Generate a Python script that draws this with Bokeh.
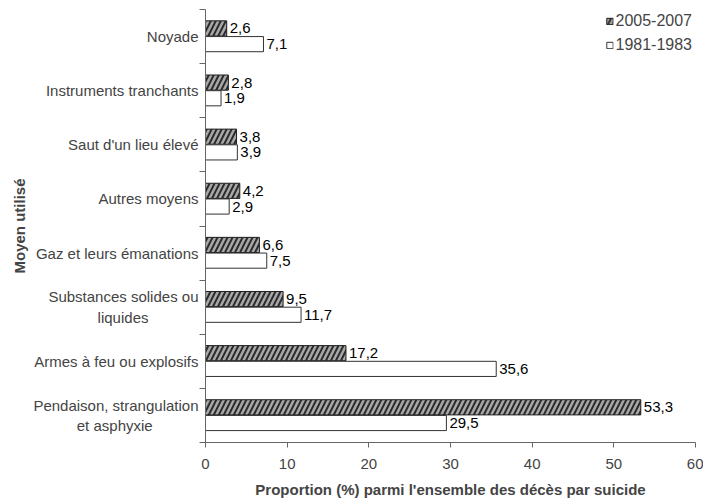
from bokeh.plotting import figure
from bokeh.models import Range1d, FixedTicker, ColumnDataSource, Legend, LegendItem
from bokeh.core.properties import value
from bokeh.embed import file_html
from bokeh.resources import INLINE

PAD = "\u00a0"
END = "\u200b"

# Data (top to bottom)
categories = [
    "Noyade",
    "Instruments tranchants",
    "Saut d'un lieu élevé",
    "Autres moyens",
    "Gaz et leurs émanations",
    "Substances solides ou\nliquides" + PAD * 12 + END,
    "Armes à feu ou explosifs",
    "Pendaison, strangulation\net asphyxie" + PAD * 11 + END,
]
series_names = ["2005-2007", "1981-1983"]
v_2005_2007 = [2.6, 2.8, 3.8, 4.2, 6.6, 9.5, 17.2, 53.3]
v_1981_1983 = [7.1, 1.9, 3.9, 2.9, 7.5, 11.7, 35.6, 29.5]
x_ticks = [0, 10, 20, 30, 40, 50, 60]

FONT = "Liberation Sans"
FS = "15px"
n = len(categories)
idx = list(range(n))

def fmt(v):
    return f"{v:.1f}".replace(".", ",")

src_a = ColumnDataSource(dict(y=[i - 0.15 for i in idx], v=v_2005_2007,
                              lab=[fmt(v) for v in v_2005_2007]))
src_b = ColumnDataSource(dict(y=[i + 0.14 for i in idx], v=v_1981_1983,
                              lab=[fmt(v) for v in v_1981_1983]))

p = figure(width=703, height=502, output_backend="svg", toolbar_location=None,
           x_range=Range1d(0, 60), y_range=Range1d(n - 0.5, -0.5),
           min_border_left=205, min_border_right=8, min_border_top=9,
           min_border_bottom=60)
p.outline_line_color = None
p.xgrid.visible = False
p.ygrid.visible = False
p.background_fill_color = "white"
p.border_fill_color = "white"

ra = p.hbar(y="y", right="v", left=0, height=0.28, source=src_a,
            fill_color="#2b2b2b", line_color="#222222", line_width=1,
            hatch_pattern="/", hatch_color="#a8a8a8", hatch_weight=2.5, hatch_scale=10)
rb = p.hbar(y="y", right="v", left=0, height=0.28, source=src_b,
            fill_color="white", line_color="#333333", line_width=1)

for s in (src_a, src_b):
    p.text(x="v", y="y", text="lab", source=s, x_offset=3, text_baseline="middle",
           text_align="left", text_font=value(FONT), text_font_size=FS,
           text_color="black")

# x axis
xa = p.xaxis[0]
xa.ticker = FixedTicker(ticks=x_ticks)
xa.axis_label = "Proportion (%) parmi l'ensemble des décès par suicide"
xa.axis_label_text_font = FONT
xa.axis_label_text_font_style = "bold"
xa.axis_label_text_font_size = FS
xa.axis_label_standoff = 9
xa.major_label_text_font = FONT
xa.major_label_text_font_size = FS
xa.major_label_standoff = 11
xa.major_tick_in = 0
xa.major_tick_out = 5
xa.minor_tick_out = 0
xa.minor_tick_in = 0
xa.axis_line_color = "#666666"
xa.major_tick_line_color = "#666666"

# y axis
ya = p.yaxis[0]
ya.ticker = FixedTicker(ticks=idx, minor_ticks=[i - 0.5 for i in range(n + 1)])
ya.major_label_overrides = {i: c for i, c in enumerate(categories)}
ya.axis_label = "Moyen utilisé"
ya.axis_label_text_font = FONT
ya.axis_label_text_font_style = "bold"
ya.axis_label_text_font_size = FS
ya.axis_label_standoff = 2
ya.major_label_text_font = FONT
ya.major_label_text_font_size = FS
ya.major_label_text_align = "right"
ya.major_label_standoff = 1
ya.major_tick_in = 0
ya.major_tick_out = 0
ya.minor_tick_in = 0
ya.minor_tick_out = 6
ya.axis_line_color = "#666666"
ya.minor_tick_line_color = "#666666"

legend = Legend(items=[LegendItem(label=series_names[0], renderers=[ra]),
                       LegendItem(label=series_names[1], renderers=[rb])],
                location="top_right")
legend.label_text_font = FONT
legend.label_text_font_size = "16px"
legend.glyph_width = 8
legend.glyph_height = 8
legend.label_standoff = 2
legend.label_height = 16
legend.spacing = 6
legend.padding = 3
legend.margin = 3
legend.border_line_color = None
legend.background_fill_alpha = 0
p.add_layout(legend)

open("out.html", "w").write(file_html(p, INLINE))
